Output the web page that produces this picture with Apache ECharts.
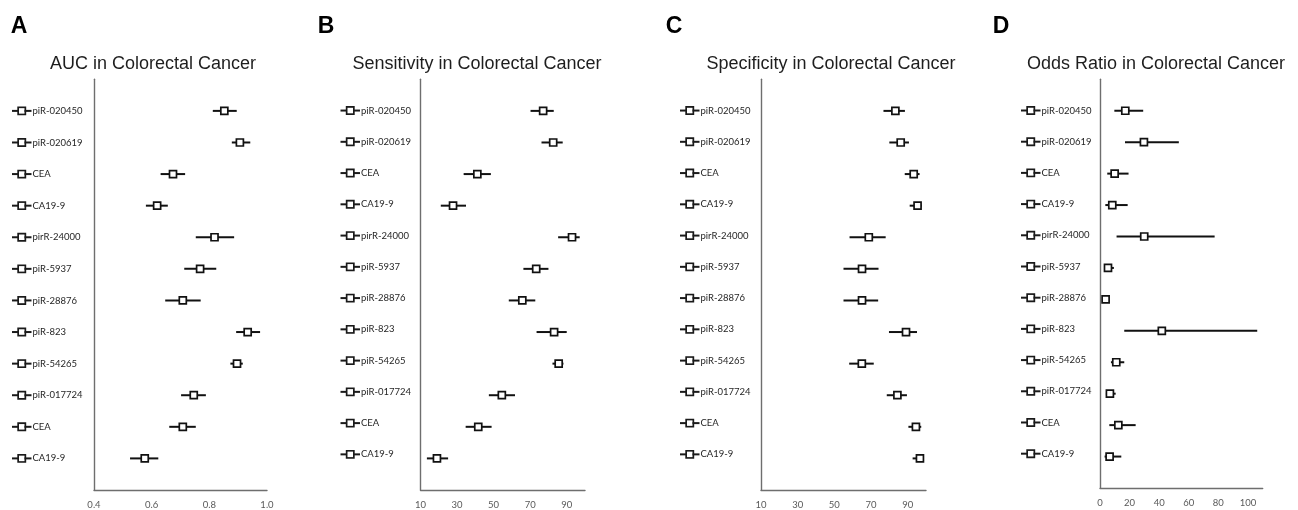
<!DOCTYPE html>
<html>
<head>
<meta charset="utf-8">
<script src="https://cdn.jsdelivr.net/npm/echarts@6/dist/echarts.min.js"></script>
<style>html,body{margin:0;padding:0;background:#fff;}#c{width:1298px;height:510px;}</style>
</head>
<body>
<div id="c"></div>
<script>
// ---- data ----
var rowNames = ['piR-020450','piR-020619','CEA','CA19-9','pirR-24000','piR-5937','piR-28876','piR-823','piR-54265','piR-017724','CEA','CA19-9'];

var aucVal = [0.852,0.906,0.674,0.619,0.818,0.768,0.708,0.933,0.896,0.746,0.708,0.576];
var aucLo  = [0.812,0.878,0.631,0.580,0.753,0.713,0.647,0.893,0.873,0.702,0.661,0.525];
var aucHi  = [0.895,0.942,0.716,0.656,0.886,0.824,0.770,0.976,0.916,0.788,0.753,0.623];

var senVal = [77.1,82.6,41.1,27.8,92.9,73.3,65.7,83.1,85.6,54.5,41.6,19.0];
var senLo  = [70.2,76.2,33.6,21.1,85.3,66.3,58.3,73.5,82.2,47.4,34.7,13.5];
var senHi  = [82.9,87.8,48.5,34.9,97.1,80.0,72.8,90.0,88.2,61.7,48.9,25.1];

var speVal = [83.3,86.2,93.3,95.4,68.8,65.1,65.1,89.1,65.0,84.4,94.5,96.7];
var speLo  = [76.8,80.0,88.4,91.1,58.3,55.0,55.0,79.8,58.1,78.6,90.4,92.7];
var speHi  = [88.5,90.7,96.5,97.6,78.0,74.1,73.9,95.1,71.5,89.6,97.4,98.7];

var orVal = [17.1,29.7,9.9,8.3,29.9,5.4,3.8,41.8,11.0,6.7,12.4,6.5];
var orLo  = [9.7,16.9,4.9,3.6,11.2,2.9,3.0,16.4,7.4,4.0,6.3,3.1];
var orHi  = [29.2,53.3,19.3,18.7,77.5,9.4,4.6,106.3,16.4,10.6,24.1,14.4];

var titles = ['AUC in Colorectal Cancer','Sensitivity in Colorectal Cancer','Specificity in Colorectal Cancer','Odds Ratio in Colorectal Cancer'];
var letters = ['A','B','C','D'];

// ---- layout ----
var panels = [
  {grid:{left:94, top:79.3, width:173, height:414.7}, x:{min:0.4,max:1.0,interval:0.2,dec:1}, showMax:true, labMax:12, labMargin:82, val:aucVal, lo:aucLo, hi:aucHi, tx:153, lx:19},
  {grid:{left:420.5, top:79.3, width:164.5, height:414.7}, x:{min:10,max:100,interval:20,dec:0}, showMax:false, labMax:12.14, labMargin:80, val:senVal, lo:senLo, hi:senHi, tx:477, lx:326},
  {grid:{left:761, top:79.3, width:165, height:415.7}, x:{min:10,max:100,interval:20,dec:0}, showMax:false, labMax:12.14, labMargin:81, val:speVal, lo:speLo, hi:speHi, tx:831, lx:674},
  {grid:{left:1100, top:79.3, width:162.7, height:408.7}, x:{min:0,max:110,interval:20,dec:0}, showMax:false, labMax:12.1, labMargin:79, val:orVal, lo:orLo, hi:orHi, tx:1156, lx:1001}
];

var lineCol = '#6e6e6e';
var markCol = '#111';

function renderItem(params, api) {
  var y = api.value(3);
  var p = api.coord([api.value(1), y]);
  var l = api.coord([api.value(0), y]);
  var h = api.coord([api.value(2), y]);
  var s = 7;
  return {type:'group', children:[
    {type:'line', shape:{x1:l[0], y1:p[1], x2:h[0], y2:p[1]}, style:{stroke:markCol, lineWidth:2}},
    {type:'rect', shape:{x:p[0]-s/2, y:p[1]-s/2, width:s, height:s}, style:{fill:'#fff', stroke:markCol, lineWidth:1.7}}
  ]};
}

var grids = [], xAxes = [], yAxes = [], series = [], graphics = [];
panels.forEach(function(pn, k){
  grids.push(pn.grid);
  xAxes.push({
    type:'value', gridIndex:k, min:pn.x.min, max:pn.x.max, interval:pn.x.interval,
    axisLine:{show:true, onZero:false, lineStyle:{color:lineCol, width:1.4}},
    axisTick:{show:false}, splitLine:{show:false},
    axisLabel:{show:true, showMaxLabel:pn.showMax, margin:10, color:'#595959', fontFamily:'Lato', fontSize:9.5,
      formatter:(function(d){return function(v){return v.toFixed(d);};})(pn.x.dec)}
  });
  // data axis
  yAxes.push({
    type:'value', gridIndex:k, min:-1, max:12, interval:1, inverse:true,
    axisLine:{show:true, onZero:false, lineStyle:{color:lineCol, width:1.4}},
    axisTick:{show:false}, splitLine:{show:false}, axisLabel:{show:false}
  });
  // label axis (row names with legend-style marker)
  yAxes.push({
    type:'value', gridIndex:k, min:-1, max:pn.labMax, interval:1, inverse:true, position:'left',
    axisLine:{show:false}, axisTick:{show:false}, splitLine:{show:false},
    axisLabel:{show:true, align:'left', margin:pn.labMargin,
      formatter:function(v){ var n = rowNames[v]; return (n===undefined) ? '' : '{ln| }{sq| }{ln| }{t|' + n + '}'; },
      rich:{
        ln:{width:7, height:2, backgroundColor:'#1a1a1a'},
        sq:{width:5.5, height:5.5, borderWidth:1.7, borderColor:'#1a1a1a', backgroundColor:'#fff'},
        t:{fontFamily:'Lato', fontSize:9.5, color:'#262626', padding:[0,0,0,1]}
      }}
  });
  var data = pn.val.map(function(v, i){ return [pn.lo[i], v, pn.hi[i], i]; });
  series.push({
    type:'custom', xAxisIndex:k, yAxisIndex:2*k, renderItem:renderItem, data:data,
    encode:{x:[0,1,2], y:3}, clip:false, silent:true
  });
  graphics.push({type:'text', x:pn.tx, y:64, style:{text:titles[k], font:'18px "Liberation Sans", Arial, sans-serif', fill:'#1e1e1e', align:'center', verticalAlign:'middle', textAlign:'center', textVerticalAlign:'middle'}});
  graphics.push({type:'text', x:pn.lx, y:27, style:{text:letters[k], font:'bold 23px "Liberation Sans", Arial, sans-serif', fill:'#000', align:'center', verticalAlign:'middle', textAlign:'center', textVerticalAlign:'middle'}});
});

var chart = echarts.init(document.getElementById('c'), null, {renderer:'canvas'});
chart.setOption({
  animation:false,
  backgroundColor:'#fff',
  grid:grids, xAxis:xAxes, yAxis:yAxes, series:series, graphic:graphics
});
</script>
</body>
</html>
